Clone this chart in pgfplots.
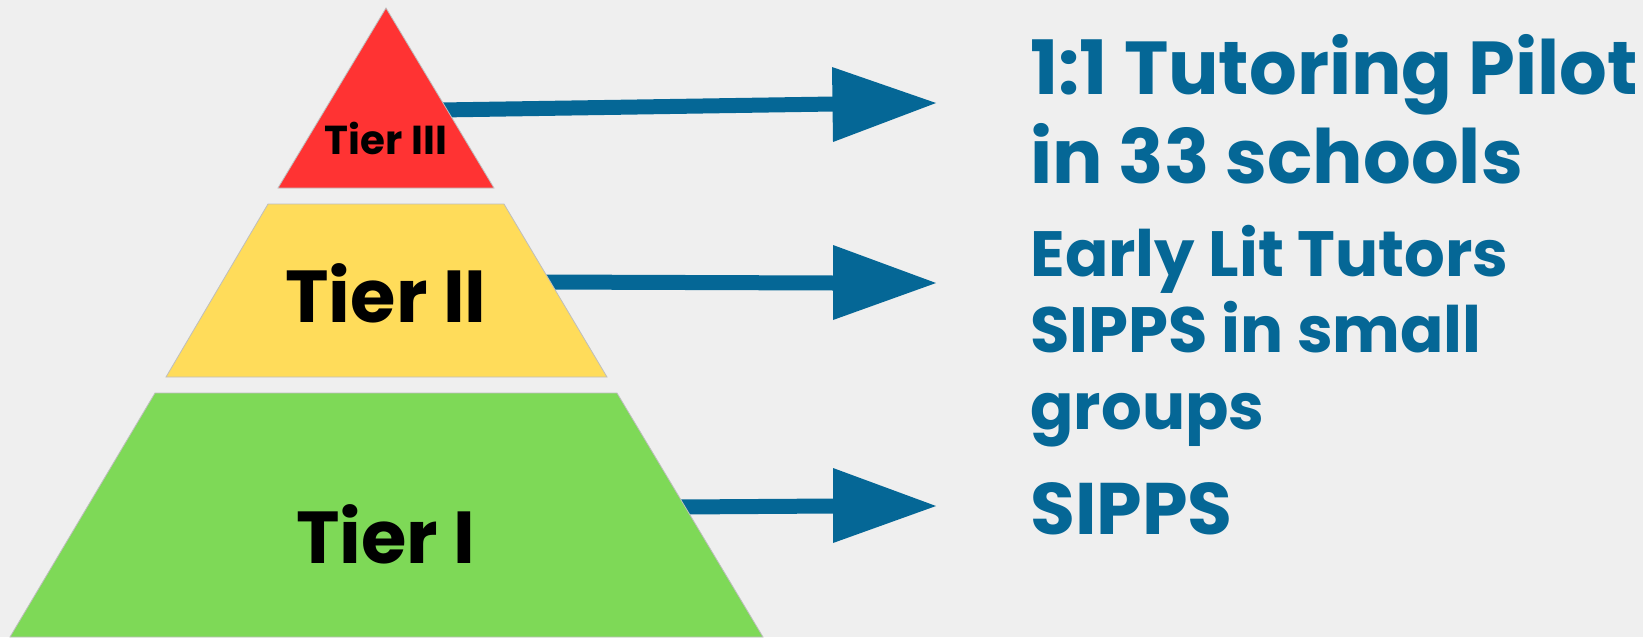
\documentclass[border=0pt]{standalone}
\usepackage{pgfplots}
\pgfplotsset{compat=1.18}
\usepackage{fontspec}
\setmainfont{Poppins}
\definecolor{bg}{RGB}{239,239,239}
\definecolor{arrowblue}{RGB}{5,103,150}
\definecolor{tierred}{RGB}{255,51,51}
\definecolor{tieryellow}{RGB}{255,220,90}
\definecolor{tiergreen}{RGB}{126,217,87}
\definecolor{edge}{RGB}{190,190,190}
\begin{document}
\begin{tikzpicture}
\begin{axis}[
  width=821.5pt, height=318.5pt, scale only axis,
  xmin=0, xmax=1643, ymin=0, ymax=637, y dir=reverse,
  hide axis, clip=false]
% background
\addplot[fill=bg, draw=none] coordinates {(0,0) (1643,0) (1643,637) (0,637)} -- cycle;
% arrow shafts (behind the pyramid)
\addplot[draw=arrowblue, line width=7.5pt] coordinates {(440,110) (834,104)};
\addplot[draw=arrowblue, line width=7.5pt] coordinates {(540,282) (834,283)};
\addplot[draw=arrowblue, line width=7.5pt] coordinates {(680,507) (834,506)};
% pyramid tiers
\addplot[fill=tierred, draw=edge, line width=0.4pt] coordinates {(278,188) (494,188) (386,8)} -- cycle;
\addplot[fill=tieryellow, draw=edge, line width=0.4pt] coordinates {(268,204) (504,204) (607,377) (166,377)} -- cycle;
\addplot[fill=tiergreen, draw=edge, line width=0.4pt] coordinates {(155,393) (617,393) (763,637) (10,637)} -- cycle;
% arrow heads
\addplot[fill=arrowblue, draw=none] coordinates {(832,67) (936,103) (833,142)} -- cycle;
\addplot[fill=arrowblue, draw=none] coordinates {(833,245) (936,283) (833,320)} -- cycle;
\addplot[fill=arrowblue, draw=none] coordinates {(833,468) (936,506) (833,543)} -- cycle;
% tier labels
\node[anchor=base, font=\fontsize{20.2}{22}\selectfont\bfseries] at (axis cs:386,154) {Tier III};
\node[anchor=base, font=\fontsize{36.8}{40}\selectfont\bfseries] at (axis cs:386,322) {Tier II};
\node[anchor=base, font=\fontsize{36.8}{40}\selectfont\bfseries] at (axis cs:386,563) {Tier I};
% descriptions
\begin{scope}[every node/.style={anchor=base west, inner xsep=0pt, text=arrowblue}]
\node[font=\fontsize{37.5}{40}\selectfont\bfseries] at (axis cs:1030,94) {1:1 Tutoring Pilot};
\node[font=\fontsize{37.5}{40}\selectfont\bfseries] at (axis cs:1030,183) {in 33 schools};
\node[font=\fontsize{32}{36}\selectfont\bfseries] at (axis cs:1030,276) {Early Lit Tutors};
\node[font=\fontsize{32}{36}\selectfont\bfseries] at (axis cs:1030,352) {SIPPS in small};
\node[font=\fontsize{32}{36}\selectfont\bfseries] at (axis cs:1030,429) {groups};
\node[font=\fontsize{36.5}{40}\selectfont\bfseries] at (axis cs:1030,534) {SIPPS};
\end{scope}
\end{axis}
\end{tikzpicture}
\end{document}
